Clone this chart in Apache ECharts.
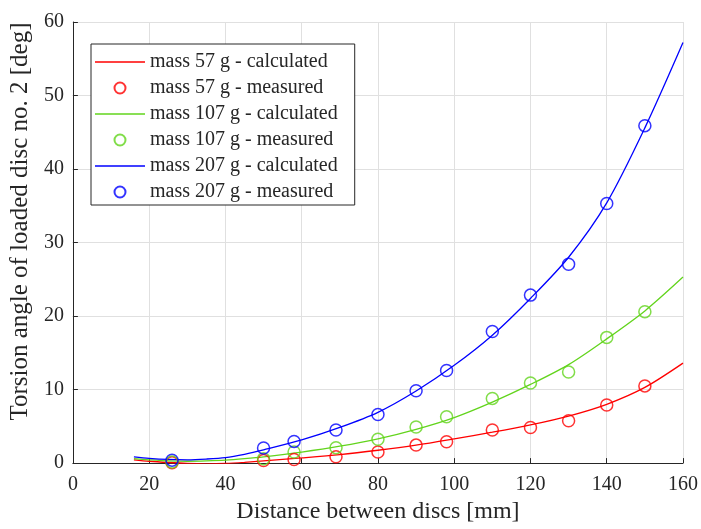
<!DOCTYPE html>
<html>
<head>
<meta charset="utf-8">
<script src="https://cdn.jsdelivr.net/npm/echarts@6/dist/echarts.min.js"></script>
<style>html,body{margin:0;padding:0;background:#fff;}#c{width:701px;height:529px;}</style>
</head>
<body>
<div id="c"></div>
<script>
var xTicks = [0, 20, 40, 60, 80, 100, 120, 140, 160];
var yTicks = [0, 10, 20, 30, 40, 50, 60];

var measX = [26, 50, 58, 69, 80, 90, 98, 110, 120, 130, 140, 150];
var red57Meas = [0.05, 0.35, 0.5, 0.85, 1.5, 2.45, 2.9, 4.5, 4.85, 5.75, 7.9, 10.5];
var green107Meas = [0.15, 0.6, 1.5, 2.1, 3.25, 4.9, 6.3, 8.8, 10.9, 12.4, 17.1, 20.6];
var blue207Meas = [0.4, 2.05, 2.95, 4.5, 6.6, 9.85, 12.6, 17.9, 22.85, 27.05, 35.3, 45.9];

var calcX = [16, 20, 25, 30, 35, 40, 45, 50, 60, 70, 80, 90, 100, 110, 120, 130, 140, 150, 160];
var red57Calc = [0.45, 0.25, 0.08, -0.05, -0.1, -0.05, 0.1, 0.3, 0.7, 1.15, 1.75, 2.45, 3.3, 4.2, 5.2, 6.4, 8.0, 10.3, 13.6];
var green107Calc = [0.6, 0.45, 0.3, 0.25, 0.3, 0.4, 0.6, 0.85, 1.5, 2.3, 3.3, 4.6, 6.2, 8.3, 10.7, 13.4, 16.9, 20.7, 25.3];
var blue207Calc = [0.85, 0.65, 0.5, 0.45, 0.55, 0.75, 1.2, 1.8, 3.15, 4.85, 6.9, 9.8, 13.3, 17.4, 22.4, 28.0, 35.4, 45.6, 57.2];

var names = ['mass 57 g - calculated', 'mass 57 g - measured',
             'mass 107 g - calculated', 'mass 107 g - measured',
             'mass 207 g - calculated', 'mass 207 g - measured'];
var colors = ['#ff0000', '#62d41c', '#0000ff'];

function pairs(xs, ys) { return xs.map(function (x, i) { return [x, ys[i]]; }); }

var FONT = '"Liberation Serif", "Times New Roman", serif';
var TXT = '#262626';
var LINE_ICON = 'path://M0,0H50V1.4H0Z';

function lineSeries(name, xs, ys, color) {
  return {
    name: name, type: 'line', data: pairs(xs, ys),
    symbol: 'none', smooth: 0.3,
    lineStyle: { color: color, width: 1.3 }, itemStyle: { color: color },
    z: 2
  };
}
function scatterSeries(name, xs, ys, color) {
  return {
    name: name, type: 'scatter', data: pairs(xs, ys),
    symbol: 'circle', symbolSize: 12, clip: false,
    itemStyle: { color: 'rgba(255,255,255,0)', borderColor: color, borderWidth: 1.5 },
    z: 3
  };
}

var chart = echarts.init(document.getElementById('c'), null, { renderer: 'canvas' });
chart.setOption({
  animation: false,
  backgroundColor: '#fff',
  grid: { left: 72, right: 17, top: 22, bottom: 62, containLabel: false },
  xAxis: {
    type: 'value', min: 0, max: 160, interval: 20,
    name: 'Distance between discs [mm]', nameLocation: 'middle', nameGap: 36,
    nameTextStyle: { fontFamily: FONT, fontSize: 24, color: TXT },
    axisLine: { show: true, onZero: false, lineStyle: { color: TXT, width: 1 } },
    axisTick: { show: true, inside: true, length: 5, lineStyle: { color: TXT } },
    axisLabel: { fontFamily: FONT, fontSize: 20, color: TXT, margin: 12 },
    splitLine: { show: true, lineStyle: { color: '#e0e0e0', width: 1 } }
  },
  yAxis: {
    type: 'value', min: 0, max: 60, interval: 10,
    name: 'Torsion angle of loaded disc no. 2 [deg]', nameLocation: 'middle', nameGap: 38,
    nameTextStyle: { fontFamily: FONT, fontSize: 25, color: TXT, padding: [0, 0, 0, 42] },
    axisLine: { show: true, onZero: false, lineStyle: { color: TXT, width: 1 } },
    axisTick: { show: true, inside: true, length: 5, lineStyle: { color: TXT } },
    axisLabel: { fontFamily: FONT, fontSize: 20, color: TXT, margin: 9 },
    splitLine: { show: true, lineStyle: { color: '#e0e0e0', width: 1 } }
  },
  legend: {
    orient: 'vertical', left: 91, top: 44,
    data: [
      { name: names[0], icon: LINE_ICON },
      { name: names[1] },
      { name: names[2], icon: LINE_ICON },
      { name: names[3] },
      { name: names[4], icon: LINE_ICON },
      { name: names[5] }
    ],
    itemWidth: 50, itemHeight: 11, itemGap: 6,
    symbolKeepAspect: true,
    padding: [8, 17, 3, 4],
    backgroundColor: '#fff', borderColor: TXT, borderWidth: 1, borderRadius: 0,
    textStyle: { fontFamily: FONT, fontSize: 20, color: TXT },
    selectedMode: false
  },
  series: [
    lineSeries(names[0], calcX, red57Calc, colors[0]),
    scatterSeries(names[1], measX, red57Meas, colors[0]),
    lineSeries(names[2], calcX, green107Calc, colors[1]),
    scatterSeries(names[3], measX, green107Meas, colors[1]),
    lineSeries(names[4], calcX, blue207Calc, colors[2]),
    scatterSeries(names[5], measX, blue207Meas, colors[2])
  ]
});
</script>
</body>
</html>
